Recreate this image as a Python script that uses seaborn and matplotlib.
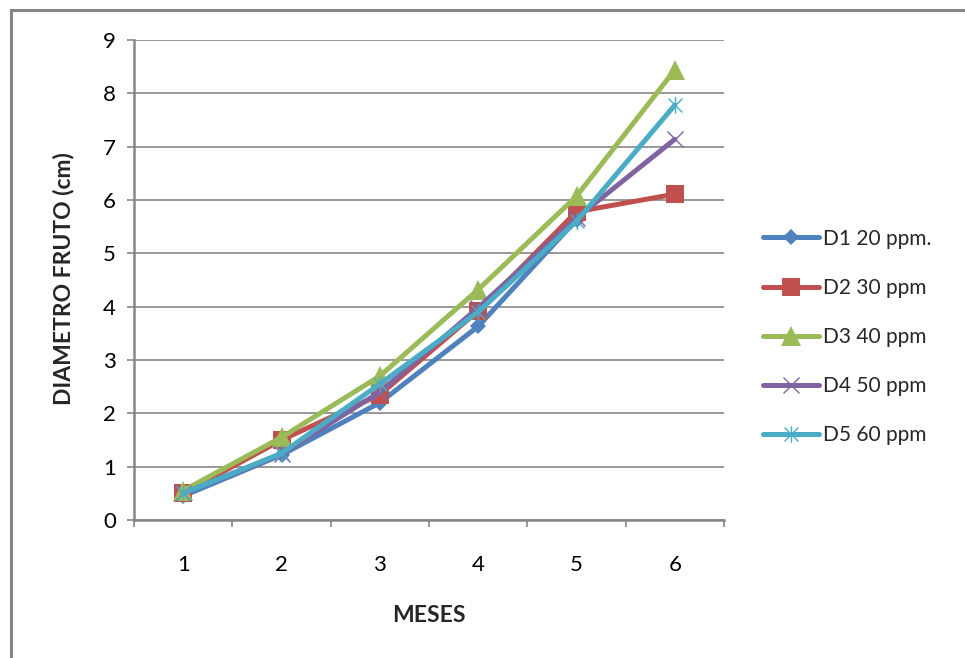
#!/usr/bin/env python3
"""Diametro de fruto por mes para cinco dosis (ppm)."""

import matplotlib

matplotlib.use("Agg")
import matplotlib.pyplot as plt
import numpy as np
import pandas as pd
import seaborn as sns
from matplotlib.patches import Rectangle
from matplotlib.path import Path


MESES = [1, 2, 3, 4, 5, 6]
SERIES = ["D1 20 ppm.", "D2 30 ppm", "D3 40 ppm", "D4 50 ppm", "D5 60 ppm"]
D1 = [0.45, 1.22, 2.2, 3.63, 5.63, np.nan]
D2 = [0.5, 1.5, 2.35, 3.92, 5.78, 6.11]
D3 = [0.55, 1.55, 2.7, 4.32, 6.07, 8.44]
D4 = [0.5, 1.24, 2.4, 3.98, 5.66, 7.14]
D5 = [0.5, 1.25, 2.55, 3.9, 5.6, 7.78]
Y_TICKS = list(range(0, 10))

COLORS = ["#4F81BD", "#C0504D", "#9BBB59", "#8064A2", "#4BACC6"]
GRID = "#868686"

# asterisk marker (x plus a vertical bar), like the Excel one
STAR = Path(
    [(-1, -1), (1, 1), (-1, 1), (1, -1), (0, -1.2), (0, 1.2)],
    [Path.MOVETO, Path.LINETO, Path.MOVETO, Path.LINETO, Path.MOVETO, Path.LINETO],
)


def main() -> None:
    sns.set_style("white")
    plt.rcParams["font.family"] = ["Lato", "DejaVu Sans"]

    df = pd.DataFrame({"mes": MESES, SERIES[0]: D1, SERIES[1]: D2,
                       SERIES[2]: D3, SERIES[3]: D4, SERIES[4]: D5})

    fig = plt.figure(figsize=(9.65, 6.58), dpi=100)
    ax = fig.add_axes([134 / 965, 1 - 520 / 658, 590 / 965, 480 / 658])

    styles = [
        dict(marker="D", markersize=8.5, markerfacecolor=COLORS[0], markeredgewidth=0),
        dict(marker="s", markersize=13.5, markerfacecolor=COLORS[1], markeredgewidth=0),
        dict(marker="^", markersize=14, markerfacecolor=COLORS[2], markeredgewidth=0),
        dict(marker="x", markersize=12, markeredgewidth=1.0),
        dict(marker=STAR, markersize=12, markerfacecolor="none", markeredgewidth=1.0),
    ]
    for name, color, st in zip(SERIES, COLORS, styles):
        sns.lineplot(data=df, x="mes", y=name, ax=ax, color=color, linewidth=3.6,
                     label=name, markeredgecolor=color, **st)

    ax.set_xlim(0.5, 6.5)
    ax.set_ylim(0, 9)
    ax.set_yticks(Y_TICKS)
    ax.set_xticks(MESES)
    ax.set_xticks(np.arange(0.5, 7, 1), minor=True)
    ax.grid(axis="y", color=GRID, linewidth=1.2)
    ax.set_axisbelow(True)

    for side in ["top", "right"]:
        ax.spines[side].set_visible(False)
    for side in ["left", "bottom"]:
        ax.spines[side].set_color(GRID)
        ax.spines[side].set_linewidth(1.8)

    ax.tick_params(axis="y", which="major", left=True, length=5, width=1.2,
                   color=GRID, pad=8, labelsize=16, labelcolor="black")
    ax.tick_params(axis="x", which="major", bottom=False, length=0, pad=25,
                   labelsize=16, labelcolor="black")
    ax.tick_params(axis="x", which="minor", bottom=True, length=5, width=1.2,
                   color=GRID)

    ax.set_xlabel("")
    ax.set_ylabel("")
    fig.text(429 / 965, 1 - 615 / 658, "MESES", ha="center", va="center",
             fontsize=16.5, fontweight="bold")
    fig.text(63 / 965, 1 - 279 / 658, "DIAMETRO FRUTO (cm)", ha="center",
             va="center", rotation=90, fontsize=16.5, fontweight="bold")

    ax.legend(loc="center left", bbox_to_anchor=(763 / 965, 1 - 337 / 658),
              bbox_transform=fig.transFigure, frameon=False, fontsize=15,
              handlelength=2.7, handletextpad=0.2, labelspacing=1.4,
              borderpad=0, borderaxespad=0, numpoints=1)

    # chart area border (runs off the right and bottom of the image)
    fig.add_artist(Rectangle((11 / 965, -0.1), 1.2, 1.1 - 10 / 658,
                             transform=fig.transFigure, fill=False,
                             edgecolor=GRID, linewidth=2.2, clip_on=False))

    fig.savefig("out.png", dpi=100)


if __name__ == "__main__":
    main()
